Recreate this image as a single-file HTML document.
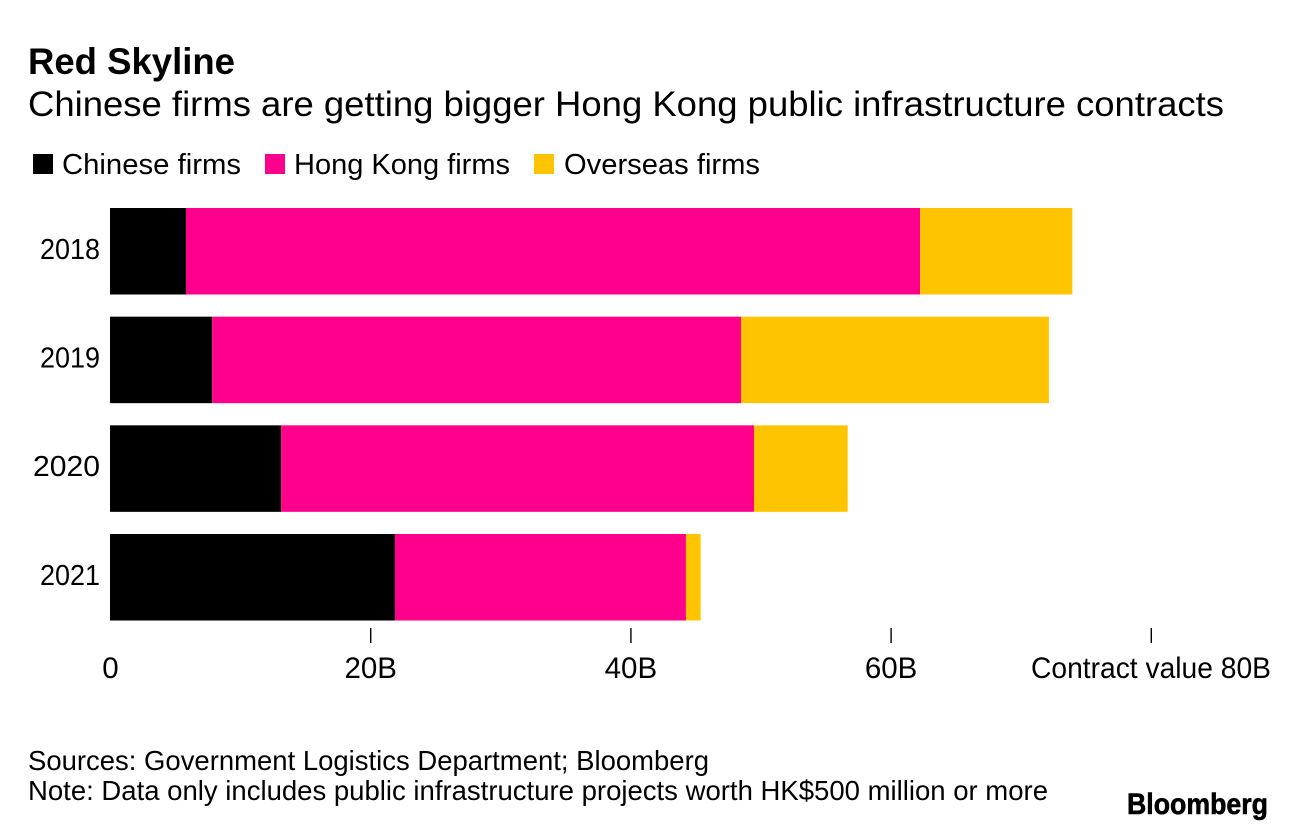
<!DOCTYPE html>
<html lang="en">
<head>
<meta charset="utf-8">
<title>Red Skyline</title>
<style>
html,body{margin:0;padding:0;background:#fff;}
svg{display:block;font-family:"Liberation Sans",sans-serif;fill:#000;}
text{fill:#000;}
</style>
</head>
<body>
<svg id="chart" width="1296" height="830" viewBox="0 0 1296 830" xmlns="http://www.w3.org/2000/svg">
  <text x="28" y="74" font-size="37" font-weight="700" textLength="207" lengthAdjust="spacingAndGlyphs">Red Skyline</text>
  <text x="28" y="116" font-size="35" textLength="1196" lengthAdjust="spacingAndGlyphs">Chinese firms are getting bigger Hong Kong public infrastructure contracts</text>

  <g>
    <rect x="33" y="154" width="20" height="20" fill="#000000"/>
    <text x="62" y="174" font-size="29" textLength="179" lengthAdjust="spacingAndGlyphs">Chinese firms</text>
    <rect x="265" y="154" width="20" height="20" fill="#ff008c"/>
    <text x="294" y="174" font-size="29" textLength="216" lengthAdjust="spacingAndGlyphs">Hong Kong firms</text>
    <rect x="534" y="154" width="20" height="20" fill="#ffc400"/>
    <text x="564" y="174" font-size="29" textLength="196" lengthAdjust="spacingAndGlyphs">Overseas firms</text>
  </g>

  <g id="bars"></g>
  <g id="y-axis"></g>
  <g id="x-axis"></g>

  <text x="28" y="770" font-size="28" textLength="681" lengthAdjust="spacingAndGlyphs">Sources: Government Logistics Department; Bloomberg</text>
  <text x="28" y="800" font-size="28" textLength="1020" lengthAdjust="spacingAndGlyphs">Note: Data only includes public infrastructure projects worth HK$500 million or more</text>
  <text x="1127" y="814" font-size="30" font-weight="700" textLength="141" lengthAdjust="spacingAndGlyphs" stroke="#000" stroke-width="0.6">Bloomberg</text>
</svg>
<script>
const years = ['2018', '2019', '2020', '2021'];
const chineseFirms = [5.84, 7.85, 13.15, 21.9];
const hongKongFirms = [56.43, 40.65, 36.35, 22.37];
const overseasFirms = [11.7, 23.67, 7.2, 1.13];
const tickValues = [0, 20, 40, 60, 80];
const tickLabels = ['0', '20B', '40B', '60B', 'Contract value 80B'];

const NS = 'http://www.w3.org/2000/svg';
const X0 = 110, X_PER_UNIT = 13.01;
const BAND_START = 208, BAND_STEP = 108.67, BAR_HEIGHT = 86.5;
function xScale(v) { return X0 + v * X_PER_UNIT; }
function yScale(i) { return BAND_START + i * BAND_STEP; }

const barsGroup = document.getElementById('bars');
const yAxisGroup = document.getElementById('y-axis');
const xAxisGroup = document.getElementById('x-axis');
const seriesColors = ['#000000', '#ff008c', '#ffc400'];
const seriesKeys = ['chinese', 'hong-kong', 'overseas'];
const seriesValues = [chineseFirms, hongKongFirms, overseasFirms];

years.forEach(function (year, i) {
  let running = 0;
  seriesValues.forEach(function (series, s) {
    const rect = document.createElementNS(NS, 'rect');
    
    
    rect.setAttribute('x', xScale(running));
    rect.setAttribute('y', yScale(i));
    rect.setAttribute('width', xScale(running + series[i]) - xScale(running));
    rect.setAttribute('height', BAR_HEIGHT);
    rect.setAttribute('fill', seriesColors[s]);
    barsGroup.appendChild(rect);
    running += series[i];
  });

  const label = document.createElementNS(NS, 'text');
  
  
  label.setAttribute('x', 100);
  label.setAttribute('y', yScale(i) + BAR_HEIGHT / 2 + 7.5);
  label.setAttribute('font-size', 29);
  label.setAttribute('text-anchor', 'end');
  label.setAttribute('textLength', 67 - 7 * (year.split('1').length - 1));
  label.setAttribute('lengthAdjust', 'spacingAndGlyphs');
  label.textContent = year;
  yAxisGroup.appendChild(label);
});

tickValues.forEach(function (value, i) {
  const x = xScale(value) + 0.5;
  if (value !== 0) {
    const tick = document.createElementNS(NS, 'line');
    
    
    tick.setAttribute('x1', x);
    tick.setAttribute('x2', x);
    tick.setAttribute('y1', 628);
    tick.setAttribute('y2', 643);
    tick.setAttribute('stroke', '#000');
    tick.setAttribute('stroke-width', 1.4);
    xAxisGroup.appendChild(tick);
  }
  const label = document.createElementNS(NS, 'text');
  
  
  label.setAttribute('y', 678);
  label.setAttribute('font-size', 29.5);
  if (i === tickValues.length - 1) {
    label.setAttribute('x', 1271);
    label.setAttribute('text-anchor', 'end');
    label.setAttribute('textLength', 240);
    label.setAttribute('lengthAdjust', 'spacingAndGlyphs');
  } else {
    label.setAttribute('x', x);
    label.setAttribute('text-anchor', 'middle');
  }
  label.textContent = tickLabels[i];
  xAxisGroup.appendChild(label);
});
</script>
</body>
</html>
